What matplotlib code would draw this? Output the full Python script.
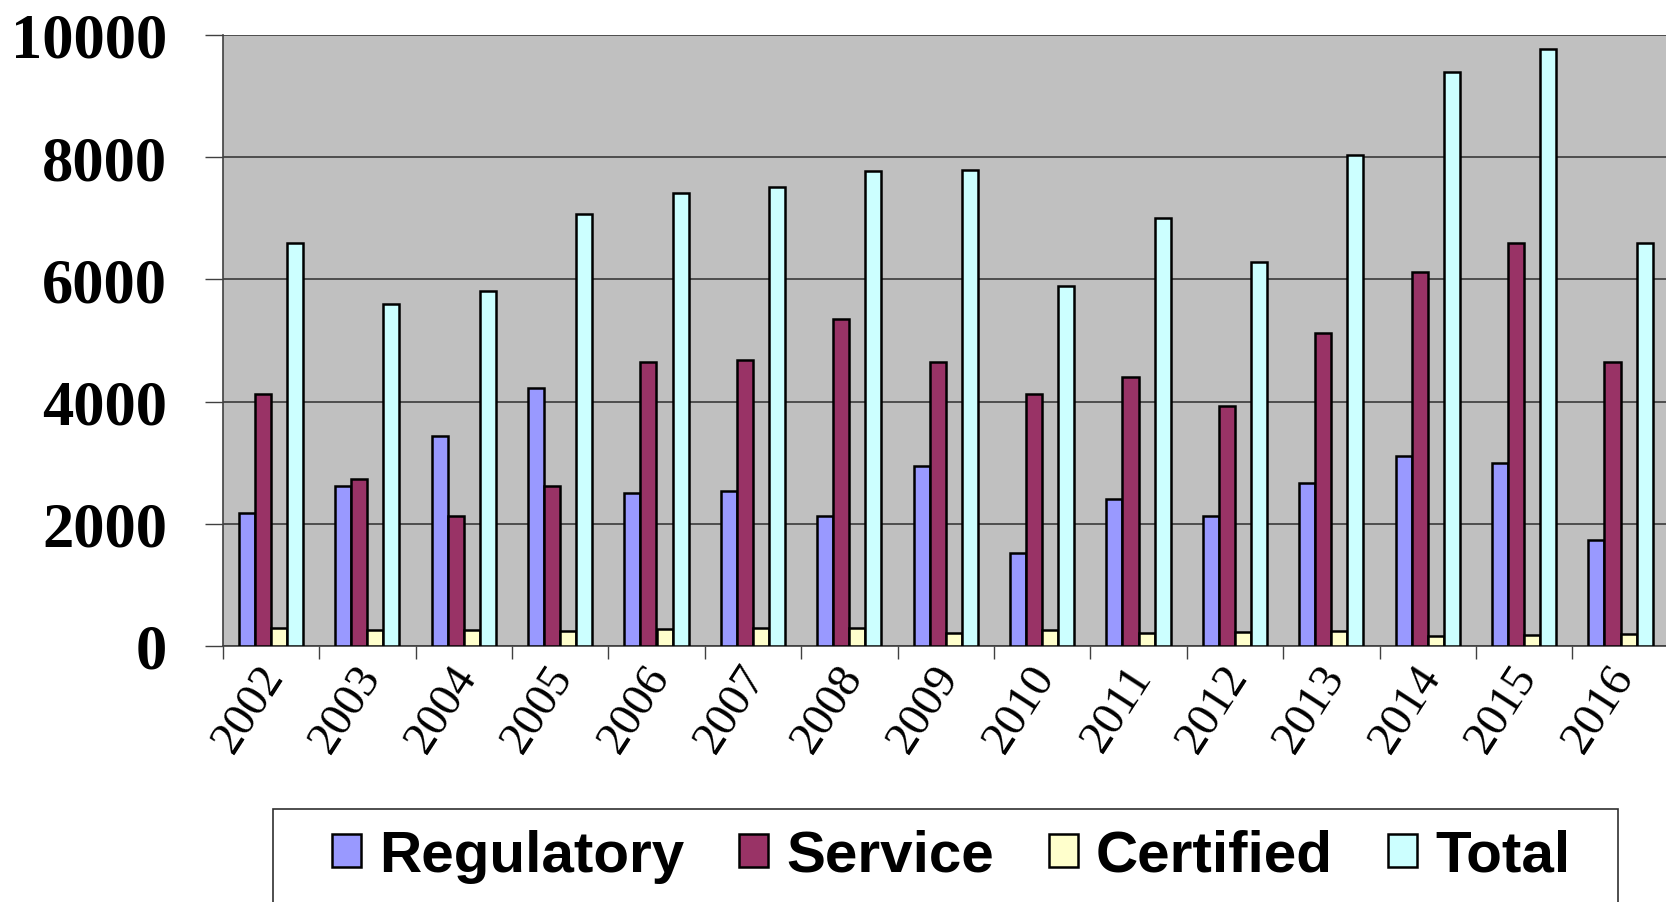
import matplotlib
matplotlib.use("Agg")
import matplotlib.pyplot as plt
import matplotlib.transforms as mtransforms
from matplotlib.patches import Rectangle
import numpy as np

years = ["2002", "2003", "2004", "2005", "2006", "2007", "2008", "2009",
         "2010", "2011", "2012", "2013", "2014", "2015", "2016"]
regulatory = [2175, 2617, 3435, 4220, 2507, 2540, 2126, 2949, 1520, 2409, 2130, 2673, 3105, 2994, 1735]
service = [4117, 2726, 2131, 2617, 4640, 4684, 5355, 4646, 4117, 4395, 3932, 5123, 6117, 6599, 4654]
certified = [289, 262, 256, 245, 284, 289, 289, 207, 256, 213, 224, 240, 169, 175, 202]
total = [6588, 5600, 5808, 7078, 7422, 7509, 7766, 7788, 5895, 7002, 6278, 8031, 9395, 9772, 6593]
series_names = ["Regulatory", "Service", "Certified", "Total"]
colors = ["#9999FF", "#993366", "#FFFFCC", "#CCFFFF"]
yticks = [0, 2000, 4000, 6000, 8000, 10000]

W, H = 1666, 903
fig = plt.figure(figsize=(W / 100, H / 100), dpi=100)
fig.patch.set_facecolor("white")

left_px, right_px, top_px, bot_px = 222.7, 1668.7, 36, 647
ax = fig.add_axes([left_px / W, 1 - bot_px / H, (right_px - left_px) / W, (bot_px - top_px) / H])
ax.set_facecolor("#C0C0C0")

x = np.arange(len(years))
w = 1 / 6
all_series = [regulatory, service, certified, total]
handles = []
for i, (vals, name, c) in enumerate(zip(all_series, series_names, colors)):
    b = ax.bar(x + (i - 1.5) * w, vals, width=w, color=c, edgecolor="black",
               linewidth=1.8, label=name, zorder=3)
    handles.append(b)

ax.set_xlim(-0.5, len(years) - 0.5)
ax.set_ylim(0, 10000)
ax.set_yticks(yticks)
ax.set_yticklabels([str(v) for v in yticks], fontfamily="Liberation Serif",
                   fontweight="bold", fontsize=45)
ax.yaxis.grid(True, color="#3a3a3a", linewidth=1.2, zorder=1)
ax.set_axisbelow(True)
ax.tick_params(axis="y", direction="out", length=13, width=1, color="#404040", pad=27)

# category boundary ticks (major) and centered labels (minor)
ax.set_xticks(np.arange(-0.5, len(years), 1.0))
ax.set_xticklabels([])
ax.tick_params(axis="x", which="major", direction="out", length=9, width=1, color="#404040")
ax.set_xticks(x, minor=True)
ax.set_xticklabels(years, minor=True, fontfamily="Liberation Serif", fontsize=34,
                   rotation=57, ha="right", va="top")
ax.tick_params(axis="x", which="minor", length=0, pad=8)
offset = mtransforms.ScaledTranslation(22 / 100, 0, fig.dpi_scale_trans)
for lab in ax.get_xticklabels(minor=True):
    lab.set_transform(lab.get_transform() + offset)

for s in ["top", "right"]:
    ax.spines[s].set_visible(False)
for s in ["left", "bottom"]:
    ax.spines[s].set_color("#404040")
    ax.spines[s].set_linewidth(1.2)

# legend frame
fig.patches.append(Rectangle((273 / W, 1 - 912 / H), (1618 - 273) / W, (912 - 810) / H,
                             transform=fig.transFigure, facecolor="white",
                             edgecolor="#303030", linewidth=1.2, zorder=0))
leg = fig.legend(handles=handles, labels=series_names, loc="center",
                 bbox_to_anchor=(951 / W, 1 - 857 / H), ncol=4, frameon=False,
                 prop={"family": "Liberation Sans", "weight": "bold", "size": 42},
                 handlelength=0.5, handleheight=0.5, handletextpad=0.3,
                 columnspacing=0.95, borderpad=0.2)

fig.savefig("out.png", dpi=100)
